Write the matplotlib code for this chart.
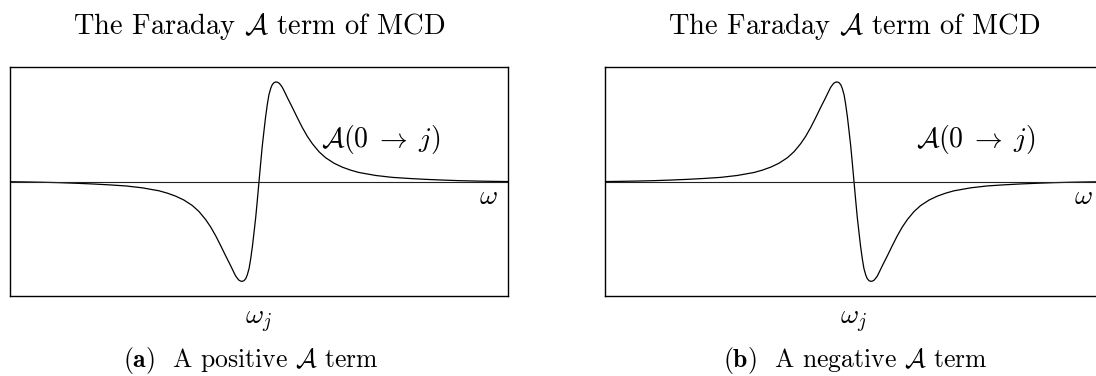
import matplotlib
matplotlib.use("Agg")
import matplotlib.pyplot as plt

plt.rcParams["font.family"] = "serif"
plt.rcParams["font.serif"] = ["cmr10"]
plt.rcParams["mathtext.fontset"] = "cm"
plt.rcParams["axes.formatter.use_mathtext"] = True

# detuning (omega - omega_j) and signal of the A term, positive case
detuning = [-8.30, -7.78, -7.22, -6.67, -6.11, -5.56, -5.00, -4.44, -3.89,
            -3.33, -3.06, -2.78, -2.50, -2.22, -2.00, -1.78, -1.61, -1.44,
            -1.28, -1.11, -0.95, -0.83, -0.78, -0.72, -0.67, -0.61, -0.56,
            -0.50, -0.44, -0.39, -0.33, -0.28, -0.22, -0.17, -0.11, -0.06,
            0.00,
            0.06, 0.11, 0.17, 0.22, 0.28, 0.33, 0.39, 0.44, 0.50, 0.56,
            0.61, 0.67, 0.72, 0.78, 0.83, 0.95, 1.11, 1.28, 1.44, 1.61,
            1.78, 2.00, 2.22, 2.50, 2.78, 3.06, 3.33, 3.89, 4.44, 5.00,
            5.56, 6.11, 6.67, 7.22, 7.78, 8.30]
signal = [-0.001, -0.003, -0.006, -0.010, -0.016, -0.023, -0.032, -0.043,
          -0.062, -0.092, -0.115, -0.145, -0.185, -0.240, -0.300, -0.380,
          -0.455, -0.545, -0.640, -0.745, -0.840, -0.915, -0.945, -0.970,
          -0.988, -0.998, -1.000, -0.993, -0.972, -0.935, -0.870, -0.780,
          -0.650, -0.520, -0.360, -0.200,
          0.000,
          0.200, 0.360, 0.520, 0.650, 0.780, 0.870, 0.935, 0.972, 0.993,
          1.000, 0.998, 0.988, 0.970, 0.945, 0.915, 0.840, 0.745, 0.640,
          0.545, 0.455, 0.380, 0.300, 0.240, 0.185, 0.145, 0.115, 0.092,
          0.062, 0.043, 0.032, 0.023, 0.016, 0.010, 0.006, 0.003, 0.001]

panels = [
    ("(a)", "positive", 1),
    ("(b)", "negative", -1),
]
ax_left = [10, 605]      # pixel x of each frame
caption_x = [251, 855]

W, H = 1096, 376
fig = plt.figure(figsize=(W / 100, H / 100), dpi=100)

for (tag, kind, sign), x0, cx in zip(panels, ax_left, caption_x):
    ax = fig.add_axes([x0 / W, (H - 296) / H, 498 / W, 228.7 / H])
    ax.plot(detuning, [sign * v for v in signal], color="black", lw=0.9)
    ax.axhline(0, color="#222222", lw=0.8)
    ax.set_xlim(-8.3, 8.3)
    ax.set_ylim(-1.147, 1.147)
    ax.set_xticks([])
    ax.set_yticks([])
    for s in ax.spines.values():
        s.set_linewidth(1.0)

    ax.text(0.5, 1.18, r"The Faraday $\mathcal{A}$ term of MCD",
            transform=ax.transAxes, ha="center", va="center", fontsize=20.5)
    ax.text(4.05, 0.42, r"$\mathcal{A}(0\;\rightarrow\;j)$",
            ha="center", va="center", fontsize=20)
    ax.text(7.65, -0.02, r"$\omega$", ha="center", va="top", fontsize=20,
            clip_on=False)
    ax.text(0.5, -0.115, r"$\omega_j$", transform=ax.transAxes,
            ha="center", va="center", fontsize=20)
    fig.text(cx / W, 1 - 361 / H,
             r"$\mathbf{" + tag + r"}$  A " + kind + r" $\mathcal{A}$ term",
             ha="center", va="center", fontsize=18.5)

fig.savefig("out.png", dpi=100)
